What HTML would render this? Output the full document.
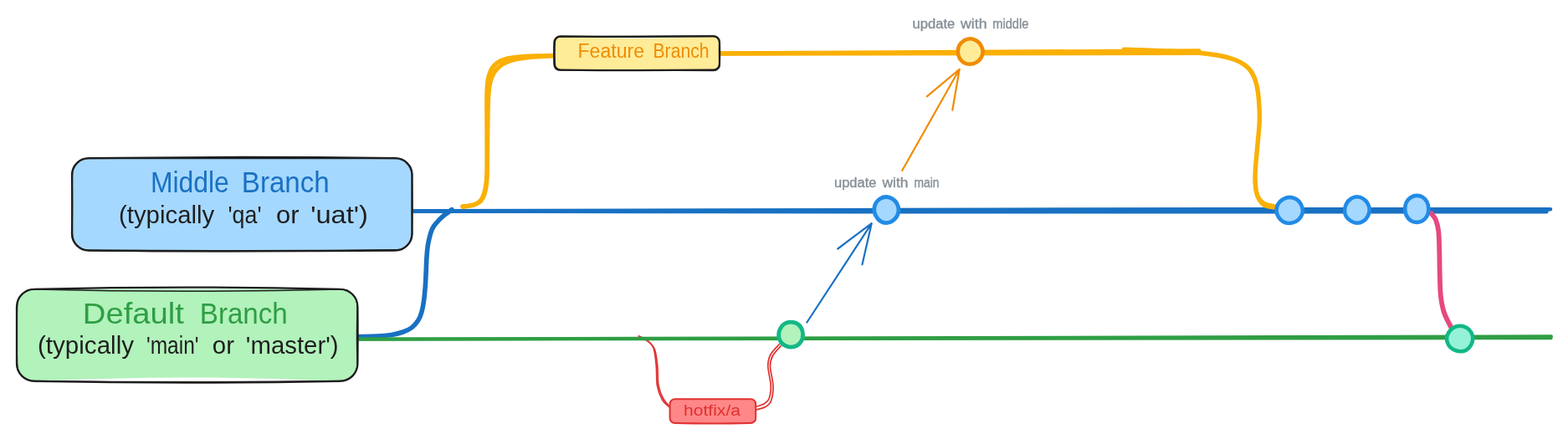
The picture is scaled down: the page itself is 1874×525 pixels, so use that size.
<!DOCTYPE html>
<html lang="en">
<head>
<meta charset="utf-8">
<title>Branching strategy</title>
<style>
  html, body { margin: 0; padding: 0; background: #ffffff; }
  body { width: 1874px; height: 525px; overflow: hidden; }
  svg { display: block; will-change: transform; }
  text { font-family: "Liberation Sans", sans-serif; }
  .ln { fill: none; stroke-linecap: round; stroke-linejoin: round; }
  .blue { stroke: #1971c2; }
  .green { stroke: #2f9e44; }
  .yellow { stroke: #fab005; }
  .pink { stroke: #e64980; }
  .red { stroke: #e03131; }
  .ink { stroke: #1e1e1e; }
</style>
</head>
<body>
<svg width="1874" height="525" viewBox="0 0 1874 525">
  <rect width="1874" height="525" fill="#ffffff"/>

  <!-- blue branch-off curve -->
  <path class="ln blue" stroke-width="5.6" d="M428.6,402.5 C432.3,402.4 444.3,402.5 450.9,402.1 C457.5,401.8 462.9,401.2 468,400.4 C473.1,399.5 477.7,398.4 481.7,397 C485.7,395.6 489,394.2 492,391.9 C495,389.6 497.7,386.4 499.7,383.3 C501.7,380.2 502.9,377 504,373 C505.1,369 505.9,364.4 506.6,359.3 C507.3,354.2 507.9,347.5 508.3,342.1 C508.7,336.7 508.8,332.6 509.1,327 C509.4,321.4 509.5,314.5 509.9,308.6 C510.3,302.7 510.6,297.1 511.7,291.4 C512.8,285.7 514.5,278.6 516.3,274.3 C518.1,270 520.2,268.3 522.3,265.7 C524.4,263.1 526.9,260.8 529.1,258.9 C531.3,256.9 533.7,255.4 535.5,254 C537.3,252.6 539.2,251.2 540,250.6"/>
  <!-- hotfix (red) connectors -->
  <path class="ln red" stroke-width="1.7" d="M763.3,401.8 C764.8,402.5 769,403.6 772,406 C775,408.4 779,410.7 781,416 C783,421.3 783.5,430 784.3,437.6 C785,445.2 784.3,454.7 785.5,461.4 C786.7,468.1 789,473.7 791.5,478 C794,482.3 799,485.7 800.5,487.2"/>
  <path class="ln red" stroke-width="1.7" d="M764,403.2 C765.6,403.9 770.4,405 773.5,407.5 C776.6,410 780.5,412.9 782.5,418 C784.5,423.1 785,430.8 785.8,438 C786.5,445.2 785.8,454.5 787,461 C788.2,467.5 790.5,472.8 792.8,477 C795,481.2 799.2,484.5 800.5,486"/>
  <path class="ln red" stroke-width="1.7" d="M903.8,486.2 C905.3,485.7 910.5,484.5 913,483 C915.5,481.5 917.6,480.6 919,477 C920.4,473.4 921.5,468 921.3,461.4 C921.1,454.8 917.8,443.8 917.8,437.6 C917.8,431.4 918.7,428.4 921,424 C923.3,419.6 929.8,413.6 931.5,411.5"/>
  <path class="ln red" stroke-width="1.7" d="M903.8,490 C905.7,489.4 912,488.2 915,486.5 C918,484.8 920,483.7 921.5,479.5 C923,475.3 924.2,468.3 924,461.4 C923.8,454.5 920.6,444 920.5,438 C920.4,432 921.3,429.6 923.5,425.5 C925.7,421.4 931.8,415.5 933.5,413.5"/>
  <!-- default (green) line -->
  <path class="ln green" stroke-width="4" d="M428,405.6 L1854,402.3"/>
  <path class="ln green" stroke-width="4" d="M428,405.7 L1853.6,404.2"/>
  <!-- middle (blue) line -->
  <path class="ln blue" stroke-width="4.6" d="M495,252.3 C519.2,252.2 545.8,252.2 640,252 C734.2,251.8 953.3,251.3 1060,251.1 C1166.7,250.9 1195,250.7 1280,250.6 C1365,250.5 1474.5,250.4 1570,250.3 C1665.5,250.2 1805.8,250.2 1853,250.2"/>
  <path class="ln blue" stroke-width="4.6" d="M495,252.6 C519.2,252.6 545.8,252.6 640,252.7 C734.2,252.8 953.3,253.1 1060,253.2 C1166.7,253.3 1195,253.2 1280,253.2 C1365,253.2 1475.2,253.2 1570,253.2 C1664.8,253.2 1802.1,253.1 1848.5,253.1"/>
  <!-- feature (yellow) curve -->
  <path class="ln yellow" stroke-width="5.4" d="M553,247 C555.2,246.7 562.3,246.3 566,245 C569.7,243.7 572.7,242.2 575,239 C577.3,235.8 578.8,231.7 580,226 C581.2,220.3 581.7,217.7 582,205 C582.3,192.3 582,165.8 582,150 C582,134.2 581.6,120 582,110 C582.4,100 582.8,95.5 584.5,90 C586.2,84.5 588.4,80.3 592,77 C595.6,73.7 599.7,71.6 606,70 C612.3,68.4 620.5,67.9 630,67.3 C639.5,66.7 657.5,66.7 663,66.6"/>
  <path class="ln yellow" stroke-width="5" d="M553,247.2 C555.2,246.9 562.2,246.5 566,245.2 C569.8,243.9 573.1,242.7 575.5,239.5 C577.9,236.3 579.5,231.8 580.6,226 C581.8,220.2 582,217.7 582.4,205 C582.8,192.3 582.7,165.3 583,150 C583.3,134.7 583.2,122.4 584,113 C584.8,103.6 585.6,98.8 587.5,93.5 C589.4,88.2 591.9,84.4 595.5,81 C599.1,77.6 602.9,75 609,73 C615.1,71 623,69.8 632,68.8 C641,67.8 657.8,67.1 663,66.8"/>
  <path class="ln yellow" stroke-width="5.2" d="M861,63.8 Q1160,61.5 1433,60.9"/>
  <path class="ln yellow" stroke-width="5.2" d="M861,64.2 Q1160,63.8 1433,63.3"/>
  <path class="ln yellow" stroke-width="5.4" d="M1343.5,59.3 C1349.6,59.5 1367.2,60 1380,60.5 C1392.8,61 1410,61.7 1420,62.3 C1430,62.9 1433.3,63.2 1440,64 C1446.7,64.8 1454,65.8 1460,67 C1466,68.2 1471.3,69.7 1476,71.5 C1480.7,73.3 1484.7,75.5 1488,78 C1491.3,80.5 1493.8,82.8 1496,86.5 C1498.2,90.2 1500.1,94.4 1501.5,100 C1502.9,105.6 1503.9,112.5 1504.5,120 C1505.1,127.5 1505.6,135.8 1505.3,145 C1505,154.2 1503.6,165.2 1502.8,175 C1502,184.8 1500.7,196.2 1500.3,204 C1499.9,211.8 1499.9,216.8 1500.4,222 C1500.9,227.2 1501.7,231.9 1503.4,235.5 C1505.1,239.1 1507.4,241.7 1510.8,243.6 C1514.2,245.5 1521.8,246.3 1524,246.9"/>
  <path class="ln yellow" stroke-width="4.6" d="M1500.6,215 C1500.7,217.2 1500.7,224 1501.4,228 C1502.1,232 1503.4,236.1 1505,239 C1506.6,241.9 1508,244 1511,245.6 C1514,247.2 1521,247.9 1523,248.4"/>
  <!-- pink merge curve -->
  <path class="ln pink" stroke-width="5.8" d="M1710.5,255 C1711.4,256.3 1714.5,259.3 1716,263 C1717.5,266.7 1718.6,270.8 1719.3,277 C1720,283.2 1720,291.2 1720.3,300 C1720.5,308.8 1720.5,320.8 1720.8,330 C1721.1,339.2 1721.1,347.7 1722,355 C1722.9,362.3 1724,368 1726,374 C1728,380 1732.7,388.2 1734,391"/>
  <!-- middle branch box -->
  <path fill="#a5d8ff" d="M106,189 Q289.2,187.8 472.5,189 C483.5,189 492.5,198 492.5,209 Q493.7,244.2 492.5,279.5 C492.5,290.5 483.5,299.5 472.5,299.5 Q289.2,299.5 106,299.5 C95,299.5 86,290.5 86,279.5 Q86,244.2 86,209 C86,198 95,189 106,189 Z"/>
  <path class="ln ink" stroke-width="2.3" d="M106,189.2 Q289.2,186.8 472.4,189.2 C483.4,189.2 492.4,198.2 492.4,209.2 Q493,244.3 492.4,279.5 C492.4,290.5 483.4,299.5 472.4,299.5 Q289.2,300.7 106,299.5 C95,299.5 86,290.5 86,279.5 Q86.6,244.3 86,209.2 C86,198.2 95,189.2 106,189.2 Z"/>
  <path class="ln ink" stroke-width="1.5" d="M105.5,189.6 Q289.6,189.2 473.7,189.6 C484.2,189.6 492.7,198.1 492.7,208.6 Q491.7,244.2 492.7,279.8 C492.7,290.3 484.2,298.8 473.7,298.8 Q289.6,302.3 105.5,299.4 C95,299.4 86.5,290.3 86.5,279.8 Q85.7,244.2 86.5,208.6 C86.5,198.1 95,189.6 105.5,189.6 Z"/>
  <!-- default branch box -->
  <path fill="#b2f2bb" d="M40,345.6 Q223.8,345.6 407.6,345.6 C418.6,345.6 427.6,354.6 427.6,365.6 Q428.4,400.8 427.6,436 C427.6,447 418.6,456 407.6,456 Q223.8,446.8 40,456 C29,456 20,447 20,436 Q19.4,400.8 20,365.6 C20,354.6 29,345.6 40,345.6 Z"/>
  <path class="ln ink" stroke-width="2.3" d="M41,345.8 Q223.7,341.4 406.4,345.8 C418,345.8 427.4,355.2 427.4,366.8 Q427.8,400.8 427.4,434.8 C427.4,446.4 418,455.8 406.4,455.8 Q223.7,459.4 41,455.8 C29.4,455.8 20,446.4 20,434.8 Q20,400.8 20,366.8 C20,355.2 29.4,345.8 41,345.8 Z"/>
  <path class="ln ink" stroke-width="1.5" d="M40.5,346 Q223.8,350.4 407.1,346 C418.1,346 427.1,355 427.1,366 Q425.9,400.8 427.1,435.6 C427.1,446.6 418.1,455.6 407.1,455.6 Q223.8,458 40.5,455.6 C29.5,455.6 20.5,446.6 20.5,435.6 Q19.5,400.8 20.5,366 C20.5,355 29.5,346 40.5,346 Z"/>
  <!-- feature branch box -->
  <path fill="#ffec99" d="M670,43.6 Q761.3,48.4 852.6,43.6 C856.5,43.6 859.6,46.7 859.6,50.6 Q859.6,63.6 859.6,76.6 C859.6,80.5 856.5,83.6 852.6,83.6 Q761.3,84.2 670,83.6 C666.1,83.6 663,80.5 663,76.6 Q663,63.6 663,50.6 C663,46.7 666.1,43.6 670,43.6 Z"/>
  <path class="ln ink" stroke-width="2.3" d="M669.9,43.3 Q761.4,44.3 852.9,43.3 C856.8,43.3 859.9,46.4 859.9,50.3 Q860.3,63.5 859.9,76.7 C859.9,80.6 856.8,83.7 852.9,83.7 Q761.4,84.7 669.9,83.7 C666,83.7 662.9,80.6 662.9,76.7 Q662.3,63.5 662.9,50.3 C662.9,46.4 666,43.3 669.9,43.3 Z"/>
  <path class="ln ink" stroke-width="1.6" d="M669.3,43.9 Q761.1,43.1 852.9,43.1 C856.5,43.1 859.9,46.8 859.9,50.4 Q859.2,64.1 860.1,77.8 C860.1,81.4 856.5,84.5 852.9,84.5 Q760.8,83.4 668.7,84 C665.1,84 662.2,81.2 662.2,77.6 Q661.8,64 662.2,50.4 C662.2,46.8 665.7,43.9 669.3,43.9 Z"/>
  <!-- hotfix box -->
  <path fill="#ff8787" stroke="#e03131" stroke-width="2" stroke-linejoin="round" d="M806.6,477.2 Q851.9,477.2 897.2,477.2 C900.5,477.2 903.2,479.9 903.2,483.2 Q903.2,491.6 903.2,500 C903.2,503.3 900.5,506 897.2,506 Q851.9,507 806.6,506 C803.3,506 800.6,503.3 800.6,500 Q800.6,491.6 800.6,483.2 C800.6,479.9 803.3,477.2 806.6,477.2 Z"/>
  <!-- commit dots -->
  <path fill="#ffec99" stroke="#f08c00" stroke-width="4.6" stroke-linejoin="round" d="M1174.6,61.8 C1174.6,64.3 1173.8,67.2 1172.5,69.3 C1171.2,71.4 1169.1,73.4 1166.9,74.6 C1164.8,75.9 1162.1,76.7 1159.6,76.8 C1157.1,76.9 1154.2,76.2 1152,75 C1149.9,73.7 1147.9,71.5 1146.7,69.3 C1145.5,67.1 1144.8,64.3 1144.8,61.8 C1144.8,59.3 1145.4,56.4 1146.6,54.2 C1147.8,52.1 1149.9,50 1152,48.6 C1154.2,47.3 1157.1,46.3 1159.6,46.3 C1162.1,46.3 1165,47.4 1167.1,48.7 C1169.2,50.1 1171.2,52.2 1172.4,54.3 C1173.7,56.5 1174.6,59.3 1174.6,61.8 Z"/>
  <path fill="#a5d8ff" stroke="#228be6" stroke-width="4.8" stroke-linejoin="round" d="M1074,251 C1074,253.6 1073.1,256.4 1071.9,258.6 C1070.6,260.9 1068.7,263 1066.7,264.3 C1064.6,265.7 1061.8,266.6 1059.4,266.6 C1057,266.6 1054.2,265.8 1052.1,264.4 C1050,263.1 1048.2,260.8 1047,258.6 C1045.8,256.4 1044.9,253.6 1044.8,251 C1044.7,248.4 1045.4,245.4 1046.6,243.2 C1047.8,240.9 1049.9,238.8 1052.1,237.5 C1054.2,236.2 1057,235.4 1059.4,235.5 C1061.8,235.6 1064.5,236.5 1066.6,237.8 C1068.6,239.1 1070.6,241.2 1071.9,243.3 C1073.1,245.5 1074,248.4 1074,251 Z"/>
  <path fill="#a5d8ff" stroke="#228be6" stroke-width="4.6" stroke-linejoin="round" d="M1557,251.5 C1557,254.1 1556.1,257 1554.8,259.2 C1553.5,261.5 1551.2,263.5 1549,264.8 C1546.7,266 1543.8,267 1541.2,267 C1538.6,267 1535.5,266.3 1533.3,265 C1531.1,263.7 1529.1,261.4 1527.8,259.1 C1526.5,256.9 1525.5,254.1 1525.5,251.5 C1525.5,248.9 1526.3,246 1527.6,243.8 C1528.9,241.5 1531.2,239.6 1533.5,238.2 C1535.7,236.9 1538.6,235.9 1541.2,235.9 C1543.8,235.9 1546.8,236.8 1549,238.1 C1551.3,239.4 1553.3,241.6 1554.6,243.8 C1555.9,246.1 1557,248.9 1557,251.5 Z"/>
  <path fill="#a5d8ff" stroke="#228be6" stroke-width="4.6" stroke-linejoin="round" d="M1636.7,251.1 C1636.7,253.7 1635.8,256.5 1634.5,258.8 C1633.3,261 1631.4,263.2 1629.3,264.5 C1627.2,265.8 1624.4,266.7 1621.9,266.7 C1619.4,266.7 1616.7,265.7 1614.6,264.4 C1612.4,263.1 1610.2,261.2 1608.9,258.9 C1607.7,256.7 1607,253.7 1607.1,251.1 C1607.2,248.5 1608,245.7 1609.3,243.4 C1610.5,241.2 1612.4,239 1614.5,237.7 C1616.6,236.3 1619.4,235.3 1621.9,235.3 C1624.4,235.3 1627.2,236.3 1629.3,237.7 C1631.4,239 1633.4,241.2 1634.6,243.4 C1635.9,245.6 1636.7,248.5 1636.7,251.1 Z"/>
  <path fill="#a5d8ff" stroke="#228be6" stroke-width="4.6" stroke-linejoin="round" d="M1707.4,249.9 C1707.4,252.6 1706.9,255.7 1705.7,258 C1704.5,260.3 1702.5,262.5 1700.4,263.8 C1698.3,265.2 1695.7,265.9 1693.3,265.9 C1690.9,265.9 1688.2,265.3 1686.1,263.9 C1684.1,262.6 1682.2,260.3 1681,257.9 C1679.8,255.6 1679.2,252.6 1679.2,249.9 C1679.2,247.2 1679.7,244.1 1680.9,241.8 C1682.1,239.5 1684.2,237.4 1686.2,236 C1688.3,234.7 1690.9,233.9 1693.3,233.9 C1695.7,233.9 1698.4,234.5 1700.5,235.9 C1702.5,237.2 1704.4,239.5 1705.6,241.8 C1706.8,244.2 1707.4,247.2 1707.4,249.9 Z"/>
  <path fill="#b2f2bb" stroke="#12b886" stroke-width="4.8" stroke-linejoin="round" d="M959.6,400.2 C959.6,402.8 959,405.7 957.8,407.8 C956.6,410 954.5,412.1 952.4,413.3 C950.2,414.5 947.5,415.1 945.1,415.1 C942.7,415.1 940.1,414.3 938,413.1 C935.8,411.9 933.7,410 932.5,407.8 C931.2,405.6 930.6,402.7 930.6,400.2 C930.6,397.7 931.5,394.9 932.7,392.8 C933.9,390.6 935.7,388.3 937.8,387 C939.9,385.8 942.7,385.1 945.1,385.1 C947.5,385.1 950.3,385.7 952.5,386.9 C954.6,388.2 956.6,390.3 957.8,392.5 C959,394.8 959.6,397.6 959.6,400.2 Z"/>
  <path fill="#96f2d7" stroke="#12b886" stroke-width="4.6" stroke-linejoin="round" d="M1760.3,405.1 C1760.3,407.6 1759.4,410.4 1758.1,412.7 C1756.8,414.9 1754.8,417.2 1752.6,418.4 C1750.4,419.7 1747.3,420.4 1744.7,420.3 C1742.1,420.2 1739.3,419.4 1737,418.1 C1734.7,416.8 1732.5,414.9 1731.2,412.7 C1729.9,410.5 1729,407.6 1729,405.1 C1729,402.6 1730,399.8 1731.4,397.6 C1732.7,395.4 1734.7,393.2 1736.9,391.9 C1739.1,390.6 1742.1,389.8 1744.7,389.8 C1747.3,389.8 1750.3,390.5 1752.6,391.8 C1754.9,393 1757,395.2 1758.3,397.4 C1759.6,399.7 1760.3,402.6 1760.3,405.1 Z"/>
  <!-- arrows -->
  <path class="ln" stroke="#f08c00" stroke-width="2.2" d="M1078.2,204 L1146.7,82.8 M1107.8,115.3 L1146.7,82.8 L1138.3,131.7"/>
  <path class="ln blue" stroke-width="2.2" d="M964.4,385.5 L1041.7,267.2 M1001.3,297.5 L1041.7,267.2 L1030.5,316.3"/>
  <!-- labels -->
  <text y="230.2" font-size="35" fill="#1971c2"><tspan x="180" textLength="93.8" lengthAdjust="spacingAndGlyphs">Middle</tspan> <tspan x="288.8" textLength="105" lengthAdjust="spacingAndGlyphs">Branch</tspan></text>
  <text y="267.2" font-size="29" fill="#1e1e1e"><tspan x="142" textLength="114.2" lengthAdjust="spacingAndGlyphs">(typically</tspan> <tspan x="272.5" textLength="40" lengthAdjust="spacingAndGlyphs">'qa'</tspan> <tspan x="330" textLength="27.5" lengthAdjust="spacingAndGlyphs">or</tspan> <tspan x="371.2" textLength="68.8" lengthAdjust="spacingAndGlyphs">'uat')</tspan></text>
  <text y="387" font-size="35" fill="#2f9e44"><tspan x="98.8" textLength="121.2" lengthAdjust="spacingAndGlyphs">Default</tspan> <tspan x="238.8" textLength="105" lengthAdjust="spacingAndGlyphs">Branch</tspan></text>
  <text y="423.2" font-size="29" fill="#1e1e1e"><tspan x="45" textLength="115" lengthAdjust="spacingAndGlyphs">(typically</tspan> <tspan x="175" textLength="62.5" lengthAdjust="spacingAndGlyphs">'main'</tspan> <tspan x="253.8" textLength="26.2" lengthAdjust="spacingAndGlyphs">or</tspan> <tspan x="293.8" textLength="110.8" lengthAdjust="spacingAndGlyphs">'master')</tspan></text>
  <text y="68.8" font-size="23" fill="#f08c00"><tspan x="690.5" textLength="79.5" lengthAdjust="spacingAndGlyphs">Feature</tspan> <tspan x="780.5" textLength="67" lengthAdjust="spacingAndGlyphs">Branch</tspan></text>
  <text y="496.5" font-size="18" fill="#e03131"><tspan x="817" textLength="68" lengthAdjust="spacingAndGlyphs">hotfix/a</tspan></text>
  <text y="33.8" font-size="16" fill="#868e96" stroke="#868e96" stroke-width="0.35"><tspan x="1090.5" textLength="50.8" lengthAdjust="spacingAndGlyphs">update</tspan> <tspan x="1148" textLength="31.5" lengthAdjust="spacingAndGlyphs">with</tspan> <tspan x="1186.2" textLength="43.2" lengthAdjust="spacingAndGlyphs">middle</tspan></text>
  <text y="224.2" font-size="16" fill="#868e96" stroke="#868e96" stroke-width="0.35"><tspan x="997" textLength="50.5" lengthAdjust="spacingAndGlyphs">update</tspan> <tspan x="1054.5" textLength="31" lengthAdjust="spacingAndGlyphs">with</tspan> <tspan x="1092.5" textLength="30" lengthAdjust="spacingAndGlyphs">main</tspan></text>
</svg>
</body>
</html>
